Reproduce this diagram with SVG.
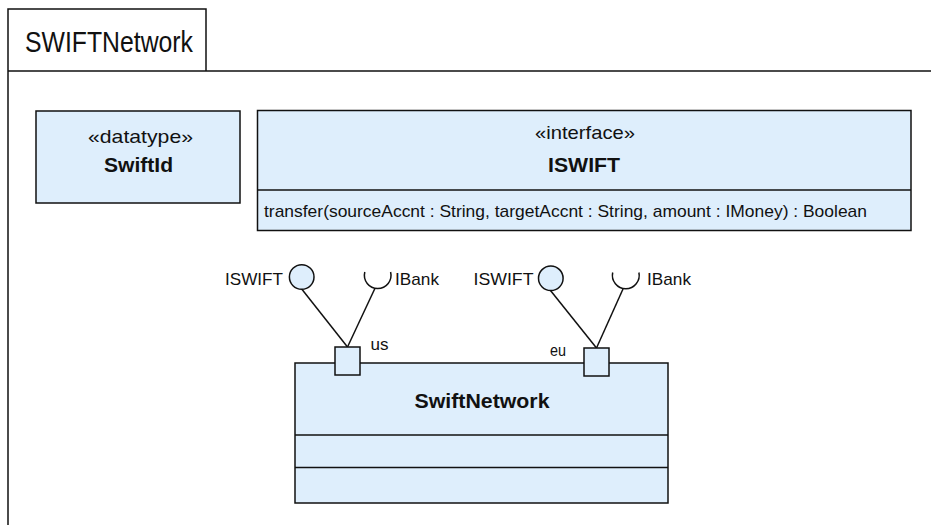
<svg xmlns="http://www.w3.org/2000/svg" width="931" height="525" viewBox="0 0 931 525">
<style>
.box{fill:#deeefc;stroke:#111;stroke-width:1.5}
.ln{fill:none;stroke:#111;stroke-width:1.5}
.t{font-family:"Liberation Sans",Arial,sans-serif;fill:#111}
.b{font-weight:bold}
</style>
<rect width="931" height="525" fill="#ffffff"/>
<g id="frame">
<path class="ln" d="M8,525 V9 H206 V71 M8,71 H931" stroke-width="1.7"/>
<text class="t" x="25" y="52" font-size="29" textLength="168" lengthAdjust="spacingAndGlyphs">SWIFTNetwork</text>
</g>
<g id="swiftid">
<rect class="box" x="36" y="111" width="204" height="92"/>
<text class="t" x="140.5" y="142.5" font-size="19" text-anchor="middle" textLength="105" lengthAdjust="spacingAndGlyphs">«datatype»</text>
<text class="t b" x="138.5" y="171.5" font-size="20" text-anchor="middle" textLength="69" lengthAdjust="spacingAndGlyphs">SwiftId</text>
</g>
<g id="iswift">
<rect class="box" x="257.5" y="110.5" width="653.5" height="120"/>
<line class="ln" x1="257.5" y1="190" x2="911" y2="190"/>
<text class="t" x="585" y="138.5" font-size="19" text-anchor="middle" textLength="100" lengthAdjust="spacingAndGlyphs">«interface»</text>
<text class="t b" x="584" y="171.5" font-size="20" text-anchor="middle" textLength="72" lengthAdjust="spacingAndGlyphs">ISWIFT</text>
<text class="t" x="264" y="217" font-size="17" textLength="603" lengthAdjust="spacingAndGlyphs">transfer(sourceAccnt : String, targetAccnt : String, amount : IMoney) : Boolean</text>
</g>
<g id="swiftnetwork">
<rect class="box" x="295" y="363" width="373" height="140"/>
<line class="ln" x1="295" y1="435" x2="668" y2="435"/>
<line class="ln" x1="295" y1="467.5" x2="668" y2="467.5"/>
<text class="t b" x="482" y="408" font-size="20" text-anchor="middle" textLength="135" lengthAdjust="spacingAndGlyphs">SwiftNetwork</text>
</g>
<g id="connectors">
<line class="ln" x1="301.7" y1="289" x2="347.5" y2="347"/>
<line class="ln" x1="375" y1="288.3" x2="347.5" y2="347"/>
<line class="ln" x1="550.5" y1="290.5" x2="596.5" y2="348"/>
<line class="ln" x1="623" y1="289" x2="596.5" y2="348"/>
</g>
<g id="port-us">
<rect class="box" x="335" y="347" width="25" height="28"/>
<text class="t" x="370.5" y="349.5" font-size="17" textLength="18" lengthAdjust="spacingAndGlyphs">us</text>
</g>
<g id="port-eu">
<rect class="box" x="584" y="348" width="25" height="28"/>
<text class="t" x="550" y="356" font-size="17" textLength="16" lengthAdjust="spacingAndGlyphs">eu</text>
</g>
<g id="us-iswift">
<circle class="box" cx="301.7" cy="277" r="12.3"/>
<text class="t" x="225" y="284.5" font-size="17" textLength="58" lengthAdjust="spacingAndGlyphs">ISWIFT</text>
</g>
<g id="us-ibank">
<path class="ln" d="M364.8,272 A13.3,13.3 0 1 0 390.6,272"/>
<text class="t" x="395" y="285" font-size="17" textLength="44" lengthAdjust="spacingAndGlyphs">IBank</text>
</g>
<g id="eu-iswift">
<circle class="box" cx="550.8" cy="278.3" r="12.3"/>
<text class="t" x="473.5" y="284.5" font-size="17" textLength="60" lengthAdjust="spacingAndGlyphs">ISWIFT</text>
</g>
<g id="eu-ibank">
<path class="ln" d="M612.7,272.5 A13.4,13.4 0 1 0 638.9,272.5"/>
<text class="t" x="647" y="285" font-size="17" textLength="44" lengthAdjust="spacingAndGlyphs">IBank</text>
</g>
</svg>
